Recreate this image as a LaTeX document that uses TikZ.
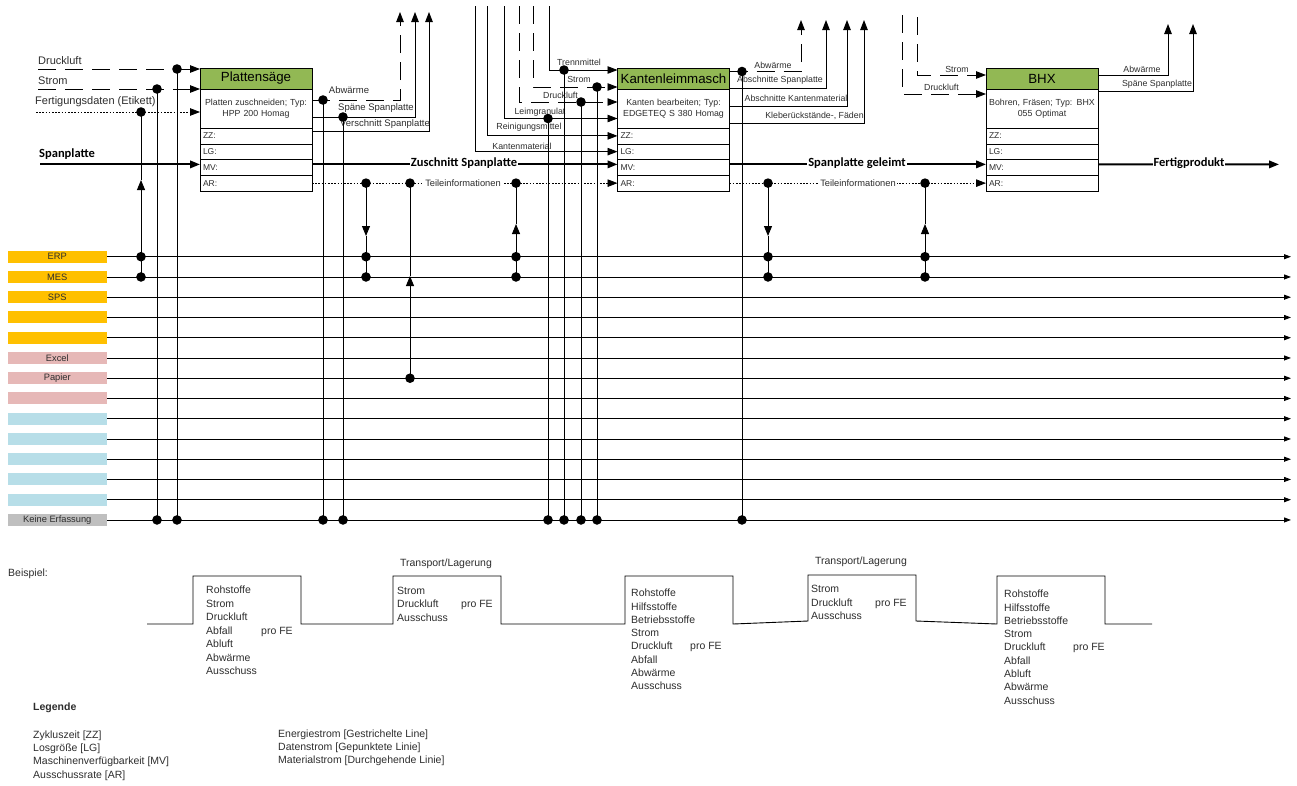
\documentclass[tikz,border=0pt]{standalone}
\usepackage{fontspec}
\setmainfont{Liberation Sans}
\newfontfamily\calibri{Carlito}
\usetikzlibrary{arrows.meta}
\definecolor{maschgruen}{RGB}{146,184,84}
\definecolor{itgelb}{RGB}{255,192,0}
\definecolor{itrosa}{RGB}{230,184,183}
\definecolor{itblau}{RGB}{183,222,232}
\definecolor{itgrau}{RGB}{191,191,191}
\definecolor{schrift}{RGB}{45,45,45}
\tikzset{
  titel/.style={draw, fill=maschgruen, minimum width=112pt, minimum height=21pt, inner sep=0pt, outer sep=0pt, font=\fontsize{13.3}{15}\selectfont},
  beschr/.style={draw, fill=white, minimum height=39pt, text width=108pt, inner xsep=2pt, inner ysep=0pt, outer sep=0pt, align=center, text=schrift, font=\fontsize{8.8}{10.5}\selectfont},
  zeile/.style={draw, fill=white, minimum height=15.75pt, text width=106pt, inner xsep=3pt, inner ysep=0pt, outer sep=0pt, align=left, text=schrift, font=\fontsize{8.5}{10}\selectfont},
  klein/.style={inner sep=0pt, text=schrift, font=\fontsize{8.8}{10}\selectfont},
  gross/.style={inner sep=0pt, text=schrift, font=\fontsize{11}{13}\selectfont},
  fett/.style={inner sep=1pt, fill=white, font=\calibri\bfseries\fontsize{12.5}{14}\selectfont},
  liste/.style={anchor=base west, inner sep=0pt, text=schrift, font=\fontsize{10.5}{12}\selectfont},
  balken/.style={inner sep=0pt, minimum width=99pt, minimum height=12pt, text=schrift, font=\fontsize{9.3}{10}\selectfont},
  fluss/.style={line width=0.9pt},
  energie/.style={line width=0.9pt, dash pattern=on 18pt off 9pt},
  daten/.style={line width=0.8pt, dash pattern=on 1.6pt off 1.6pt},
  material/.style={line width=2pt},
  spitze/.style={-{Triangle[length=10pt,width=7.5pt]}},
  pfeil/.style={-{Triangle[length=10pt,width=8pt]}}
}
\begin{document}
\begin{tikzpicture}[x=1pt, y=-1pt]
  \useasboundingbox (0,0) rectangle (1297,785);

  \coordinate (rand) at (1291,0);
  \foreach \i/\farbe/\name in {1/itgelb/ERP, 2/itgelb/MES, 3/itgelb/SPS, 4/itgelb/{}, 5/itgelb/{}, 6/itrosa/Excel, 7/itrosa/Papier, 8/itrosa/{}, 9/itblau/{}, 10/itblau/{}, 11/itblau/{}, 12/itblau/{}, 13/itblau/{}, 14/itgrau/Keine Erfassung} {
    \coordinate (lane\i) at (107,{256.7+(\i-1)*20.25});
    \node[balken, fill=\farbe, anchor=east] (bar\i) at (lane\i) {\name};
    \draw[fluss, -{Triangle[length=7pt,width=5pt]}] (lane\i) -- (lane\i -| rand);
  }

  \foreach \m/\x/\txt/\desc in {saege/256/Plattensäge/{Platten zuschneiden; Typ:\\HPP 200 Homag}, kante/673.5/Kantenleimmasch/{Kanten bearbeiten; Typ:\\EDGETEQ S 380 Homag}, bhx/1042/BHX/{Bohren, Fräsen; Typ: BHX\\055 Optimat}} {
    \node[titel] (\m) at (\x,78.5) {\txt};
    \node[beschr] (\m-d) at (\x,108.5) {\desc};
    \foreach \row [count=\j] in {ZZ,LG,MV,AR}
      \node[zeile] (\m-\row) at (\x,{128+15.75*(\j-0.5)}) {\row:};
  }

  \coordinate (s-dl) at (38,69);
  \coordinate (s-st) at (38,89);
  \coordinate (s-fd) at (36,112);
  \coordinate (s-sp) at (40,164.4);
  \draw[energie, spitze] (s-dl) -- (s-dl -| saege.west);
  \draw[energie, spitze] (s-st) -- (s-st -| saege.west);
  \draw[daten, spitze] (s-fd) -- (s-fd -| saege.west);
  \draw[material, spitze] (s-sp) -- (s-sp -| saege.west);
  \node[gross, anchor=west] (l-dl) at (38,61) {Druckluft};
  \node[gross, anchor=west] (l-st) at (38,81) {Strom};
  \node[gross, anchor=west] (l-fd) at (35,102) {Fertigungsdaten (Etikett)};
  \node[fett, fill=none, anchor=west] (l-sp) at (38,154) {Spanplatte};

  \coordinate (j-dl) at (177,69);
  \coordinate (j-st) at (157,89);
  \coordinate (j-fd) at (141,112);
  \coordinate (a-fd) at (141,180);
  \draw[fluss, pfeil] (j-fd |- lane2) -- (a-fd);
  \draw[fluss] (a-fd) -- (j-fd);

  \coordinate (s-aw) at (400,12);
  \coordinate (s-ss) at (415,12);
  \coordinate (s-vs) at (429,12);
  \draw[energie, spitze] ([yshift=8.5pt]saege-d.east) -| (s-aw);
  \draw[fluss, spitze] ([yshift=-8.5pt]saege-d.east) -| (s-ss);
  \draw[fluss, spitze] ([yshift=4.5pt]saege-ZZ.east) -| (s-vs);
  \node[klein, font=\fontsize{9.5}{11}\selectfont] (l-saw) at (349,90) {Abwärme};
  \node[klein, font=\fontsize{9.5}{11}\selectfont] (l-sss) at (376,108) {Späne Spanplatte};
  \node[klein, font=\fontsize{9.5}{11}\selectfont] (l-svs) at (385,124) {Verschnitt Spanplatte};
  \coordinate (j-aw) at (323,100);
  \coordinate (j-ss) at (343,117);

  \draw[material, spitze] ([yshift=3pt]saege-MV.east) -- ([yshift=3pt]kante-MV.west);
  \node[fett] (l-zs) at (464,163.5) {Zuschnitt Spanplatte};
  \draw[daten, spitze] (saege-AR.east) -- (kante-AR.west);
  \node[klein, fill=white, inner xsep=1.5pt, font=\fontsize{9.3}{10}\selectfont] (l-ti1) at (463,183) {Teileinformationen};

  \coordinate (t1) at (366,183.1);
  \coordinate (t2) at (410,183.1);
  \coordinate (t3) at (516,183.1);
  \coordinate (t4) at (768,183.1);
  \coordinate (t5) at (925,183.1);
  \coordinate (a-t1) at (366,236);
  \coordinate (a-t2) at (410,276);
  \coordinate (a-t3) at (516,224);
  \coordinate (a-t4) at (768,236);
  \coordinate (a-t5) at (925,224);
  \draw[fluss, pfeil] (t1) -- (a-t1);
  \draw[fluss] (a-t1) -- (t1 |- lane2);
  \draw[fluss, pfeil] (t2 |- lane7) -- (a-t2);
  \draw[fluss] (a-t2) -- (t2);
  \draw[fluss, pfeil] (t3 |- lane2) -- (a-t3);
  \draw[fluss] (a-t3) -- (t3);
  \draw[fluss, pfeil] (t4) -- (a-t4);
  \draw[fluss] (a-t4) -- (t4 |- lane2);
  \draw[fluss, pfeil] (t5 |- lane2) -- (a-t5);
  \draw[fluss] (a-t5) -- (t5);

  \coordinate (k-km) at (475,6);
  \coordinate (k-rm) at (487,6);
  \coordinate (k-lg) at (504,6);
  \coordinate (k-dl) at (519,6);
  \coordinate (k-st) at (533,6);
  \coordinate (k-tm) at (549,6);
  \draw[fluss, spitze] (k-tm) |- ([yshift=-2pt]kante.north west);
  \draw[energie, spitze] (k-st) |- ([yshift=2pt]kante.south west);
  \draw[energie, spitze] (k-dl) |- ([yshift=-13pt]kante-d.north west);
  \draw[fluss, spitze] (k-lg) |- ([yshift=9.5pt]kante-d.south west);
  \draw[fluss, spitze] (k-rm) |- (kante-ZZ.west);
  \draw[fluss, spitze] (k-km) |- (kante-LG.west);
  \node[klein] (l-ktm) at (579,62) {Trennmittel};
  \node[klein] (l-kst) at (579,79) {Strom};
  \node[klein] (l-kdl) at (560.5,95.5) {Druckluft};
  \node[klein] (l-klg) at (540,112) {Leimgranulat};
  \node[klein] (l-krm) at (529,127) {Reinigungsmittel};
  \node[klein] (l-kkm) at (522,146) {Kantenmaterial};
  \coordinate (j-tm) at (564,70);
  \coordinate (j-st2) at (597,87);
  \coordinate (j-dl2) at (581,102);
  \coordinate (j-lg) at (548,118.5);

  \coordinate (k-aw) at (801,20);
  \coordinate (k-as) at (826,20);
  \coordinate (k-ak) at (847,20);
  \coordinate (k-kf) at (864,20);
  \draw[energie, spitze] ([yshift=-3.5pt]kante.north east) -| (k-aw);
  \draw[fluss, spitze] ([yshift=1pt]kante.south east) -| (k-as);
  \draw[fluss, spitze] ([yshift=-17pt]kante-d.north east) -| (k-ak);
  \draw[fluss, spitze] ([yshift=4.5pt]kante-d.south east) -| (k-kf);
  \node[klein] (l-kaw) at (773,65) {Abwärme};
  \node[klein] (l-kas) at (780,80.5) {Abschnitte Spanplatte};
  \node[klein] (l-kak) at (796,98.5) {Abschnitte Kantenmaterial};
  \node[klein] (l-kkf) at (814.5,116) {Kleberückstände-, Fäden};
  \coordinate (j-kaw) at (742,71.5);

  \draw[material, spitze] ([yshift=3pt]kante-MV.east) -- ([yshift=3pt]bhx-MV.west);
  \node[fett] (l-sg) at (857,163.5) {Spanplatte geleimt};
  \draw[daten, spitze] (kante-AR.east) -- (bhx-AR.west);
  \node[klein, fill=white, inner xsep=1.5pt, font=\fontsize{9.3}{10}\selectfont] (l-ti2) at (858,183) {Teileinformationen};

  \coordinate (b-dl) at (902,15);
  \coordinate (b-st) at (917,17);
  \draw[energie, spitze] (b-st) |- ([yshift=-7pt]bhx.north west);
  \draw[energie, spitze] (b-dl) |- ([yshift=-5pt]bhx.south west);
  \node[klein] (l-bst) at (957,69) {Strom};
  \node[klein] (l-bdl) at (941.5,87) {Druckluft};

  \coordinate (b-aw) at (1168,24);
  \coordinate (b-ss) at (1193,24);
  \draw[fluss, spitze] ([yshift=-7pt]bhx.north east) -| (b-aw);
  \draw[fluss, spitze] ([yshift=-2pt]bhx.south east) -| (b-ss);
  \node[klein] (l-baw) at (1142,69) {Abwärme};
  \node[klein] (l-bss) at (1157,84.5) {Späne Spanplatte};

  \coordinate (b-fp) at (1279,164.4);
  \draw[material, spitze] ([yshift=3pt]bhx-MV.east) -- (b-fp);
  \node[fett] (l-fp) at (1189,163.5) {Fertigprodukt};

  \foreach \p in {j-dl, j-st, j-aw, j-ss, j-lg, j-tm, j-dl2, j-st2, j-kaw} {
    \draw[fluss] (\p) -- (\p |- lane14);
    \fill (\p) circle (4.8pt) (\p |- lane14) circle (4.8pt);
  }
  \foreach \p in {j-fd, t1, t3, t4, t5}
    \fill (\p) circle (4.8pt) (\p |- lane1) circle (4.8pt) (\p |- lane2) circle (4.8pt);
  \fill (t2) circle (4.8pt) (t2 |- lane7) circle (4.8pt);

  \node[liste, anchor=west] (beispiel) at (8,574) {Beispiel:};
  \draw[fluss] (147,624) -- (193,624) -- (193,576) -- (301,576) -- (301,624) -- (393,624) -- (393,576) -- (501,576) -- (501,624) -- (625,624) -- (625,576) -- (733,576) -- (733,624) -- (808,621) -- (808,575) -- (916,575) -- (916,621) -- (997,624) -- (997,576) -- (1105,576) -- (1105,624) -- (1152,624);
  \node[liste, anchor=center] (tl1) at (446,564) {Transport/Lagerung};
  \node[liste, anchor=center] (tl2) at (861,562) {Transport/Lagerung};

  \foreach \txt [count=\i from 0] in {Rohstoffe, Strom, Druckluft, Abfall, Abluft, Abwärme, Ausschuss}
    \node[liste] (b1-\i) at (206,{593.7+13.5*\i}) {\txt};
  \node[liste] (b1-fe) at (261,{593.7+13.5*3}) {pro FE};
  \foreach \txt [count=\i from 0] in {Strom, Druckluft, Ausschuss}
    \node[liste] (b2-\i) at (397,{594.2+13.5*\i}) {\txt};
  \node[liste] (b2-fe) at (461,{594.2+13.5}) {pro FE};
  \foreach \txt [count=\i from 0] in {Rohstoffe, Hilfsstoffe, Betriebsstoffe, Strom, Druckluft, Abfall, Abwärme, Ausschuss}
    \node[liste] (b3-\i) at (631,{596.7+13.3*\i}) {\txt};
  \node[liste] (b3-fe) at (690,{596.7+13.3*4}) {pro FE};
  \foreach \txt [count=\i from 0] in {Strom, Druckluft, Ausschuss}
    \node[liste] (b4-\i) at (811,{592.7+13.5*\i}) {\txt};
  \node[liste] (b4-fe) at (875,{592.7+13.5}) {pro FE};
  \foreach \txt [count=\i from 0] in {Rohstoffe, Hilfsstoffe, Betriebsstoffe, Strom, Druckluft, Abfall, Abluft, Abwärme, Ausschuss}
    \node[liste] (b5-\i) at (1004,{597.7+13.3*\i}) {\txt};
  \node[liste] (b5-fe) at (1073,{597.7+13.3*4}) {pro FE};

  \node[liste, anchor=west, font=\bfseries\fontsize{10.5}{12}\selectfont] (legende) at (33,708) {Legende};
  \foreach \txt [count=\i from 0] in {Zykluszeit [ZZ], Losgröße [LG], Maschinenverfügbarkeit [MV], Ausschussrate [AR]}
    \node[liste] (leg-\i) at (33,{738.7+13.1*\i}) {\txt};
  \foreach \txt [count=\i from 0] in {Energiestrom [Gestrichelte Line], Datenstrom [Gepunktete Linie], Materialstrom [Durchgehende Linie]}
    \node[liste] (leg2-\i) at (278,{737.7+13*\i}) {\txt};
\end{tikzpicture}
\end{document}
